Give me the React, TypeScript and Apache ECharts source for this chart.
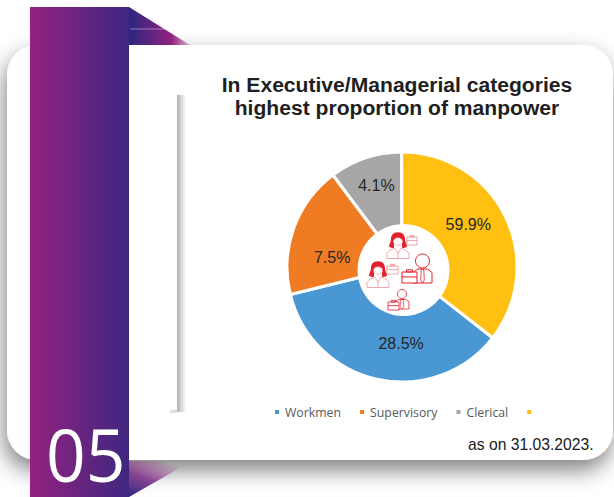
import React, { useEffect, useRef } from "react";
import * as echarts from "echarts";

const sliceNames = ["Workmen", "Supervisory", "Clerical", " "];
const sliceValues = [35.6, 18.6, 10.2, 35.6];
const sliceLabels = ["28.5%", "7.5%", "4.1%", "59.9%"];
const sliceColors = ["#4A98D3", "#EF7B22", "#A6A6A6", "#FFC012"];
const labelOffsets = [[16, -2], [6, 18], [0, -5], [-6, -7]];
const titleLines = "In Executive/Managerial categories\nhighest proportion of manpower";
const footnote = "as on 31.03.2023.";
const badge = "05";

const RED = "#E3202E";
const PINK = "#EE8A90";

const hair = "M0 -11 C-5 -11 -7 -7 -7 -3 C-7 1 -9 3 -9 6 C-7 8 -5 8 -4 7 L-4 -2 C-2 -3 2 -3 4 -2 L4 7 C5 8 7 8 9 6 C9 3 7 1 7 -3 C7 -7 5 -11 0 -11 Z";
echarts.graphic.registerShape("hairShape", echarts.graphic.extendPath(hair, {}));

function withZ(el: any, z: number): any {
  if (el.children) return { ...el, children: el.children.map((c: any) => withZ(c, z)) };
  return { ...el, z };
}

function woman(x: number, y: number) {
  return {
    type: "group", x, y, scaleX: 1, scaleY: 0.85,
    children: [
      { type: "hairShape", style: { fill: RED } },
      { type: "circle", shape: { cx: 0, cy: 0, r: 4.5 }, style: { fill: "#fff", stroke: PINK, lineWidth: 0.7 } },
      { type: "polyline", shape: { points: [[-11, 20], [-11, 14], [-8, 10], [-3, 8], [0, 14], [3, 8], [8, 10], [11, 14], [11, 20]] }, style: { fill: "none", stroke: PINK, lineWidth: 0.8 } },
      { type: "line", shape: { x1: -11, y1: 20, x2: 11, y2: 20 }, style: { stroke: PINK, lineWidth: 0.8 } },
      { type: "line", shape: { x1: 0, y1: 14, x2: 0, y2: 20 }, style: { stroke: PINK, lineWidth: 0.8 } },
    ],
  };
}
function briefcase(x: number, y: number, w: number, h: number, stroke: string, lw: number) {
  return {
    type: "group", x, y,
    children: [
      { type: "rect", shape: { x: 0, y: 0, width: w, height: h }, style: { fill: "#fff", stroke, lineWidth: lw } },
      { type: "rect", shape: { x: w * 0.3, y: -h * 0.2, width: w * 0.4, height: h * 0.2 }, style: { fill: "none", stroke, lineWidth: lw } },
      { type: "line", shape: { x1: 0, y1: h * 0.45, x2: w, y2: h * 0.45 }, style: { stroke, lineWidth: lw } },
    ],
  };
}
function man(x: number, y: number, r: number, w: number, h: number, lw: number) {
  return {
    type: "group", x, y,
    children: [
      { type: "circle", shape: { cx: 0, cy: 0, r }, style: { fill: "#fff", stroke: RED, lineWidth: lw } },
      { type: "polyline", shape: { points: [[-w, r + h], [-w, r + h * 0.3], [-w * 0.5, r + 1], [w * 0.5, r + 1], [w, r + h * 0.3], [w, r + h], [-w, r + h]] }, style: { fill: "#fff", stroke: RED, lineWidth: lw } },
      { type: "polygon", shape: { points: [[-1.2, r + 1], [1.2, r + 1], [1.8, r + h * 0.8], [0, r + h], [-1.8, r + h * 0.8]] }, style: { fill: "none", stroke: RED, lineWidth: lw * 0.8 } },
    ],
  };
}

const stripe = {
  type: "linear", x: 0, y: 0, x2: 1, y2: 0,
  colorStops: [{ offset: 0, color: "#93237F" }, { offset: 1, color: "#3F2680" }],
};

export default function App() {
  const ref = useRef<HTMLDivElement>(null);
  useEffect(() => {
    document.body.style.margin = "0";
    const chart = echarts.init(ref.current!, undefined, { renderer: "svg" });
    chart.setOption({
      animation: false,
      backgroundColor: "#fff",
      title: {
        text: titleLines, left: 392, top: 68, textAlign: "center",
        textStyle: { fontFamily: "Liberation Sans", fontSize: 21.1, fontWeight: "bold", color: "#1F1F1F", lineHeight: 23 },
      },
      legend: {
        data: sliceNames, left: 268, top: 401, icon: "rect", itemWidth: 6, itemHeight: 6, itemGap: 17,
        textStyle: { fontFamily: "Open Sans", fontSize: 12.3, color: "#595959" },
      },
      series: [{
        type: "pie", center: [402, 267], radius: [40, 115], startAngle: -38, clockwise: true,
        itemStyle: { borderColor: "#fff", borderWidth: 3 },
        label: {
          show: true, position: "inside", fontFamily: "Liberation Sans", fontSize: 16, color: "#262626",
          formatter: (p: any) => sliceLabels[p.dataIndex],
        },
        labelLine: { show: false },
        data: sliceNames.map((name, i) => ({
          name, value: sliceValues[i], itemStyle: { color: sliceColors[i] },
          label: { offset: labelOffsets[i] },
        })),
      }],
      graphic: [
        { type: "rect", z: -10, shape: { x: 7, y: 45, width: 606, height: 415, r: 30 },
          style: { fill: "#fff", shadowBlur: 22, shadowColor: "rgba(0,0,0,0.5)", shadowOffsetY: 10, shadowOffsetX: -2 } },
        { type: "polygon", z: -9, shape: { points: [[129, 7], [190, 45], [129, 45]] },
          style: { fill: { type: "linear", x: 0, y: 0, x2: 1, y2: 0, colorStops: [{ offset: 0, color: "#2A2680" }, { offset: 0.7, color: "#93237F" }, { offset: 1, color: "#D9B0D0" }] } } },
        { type: "polygon", z: -9, shape: { points: [[129, 497], [192, 461], [129, 461]] },
          style: { fill: { type: "linear", x: 0, y: 1, x2: 0.6, y2: 0, colorStops: [{ offset: 0, color: "#2A2680" }, { offset: 0.5, color: "rgba(120,40,130,0.85)" }, { offset: 1, color: "rgba(147,35,127,0)" }] } } },
        { type: "line", z: -8, shape: { x1: 130, y1: 29, x2: 168, y2: 29 }, style: { stroke: "rgba(255,255,255,0.4)", lineWidth: 1 } },
        { type: "rect", z: -8, shape: { x: 30, y: 7, width: 99, height: 490 }, style: { fill: stripe } },
        { type: "text", z: 5, x: 46, y: 453.5, scaleX: 0.94, style: { text: badge, fontFamily: "Open Sans", fontSize: 74, fill: "#fff", verticalAlign: "middle" } },
        { type: "rect", z: -8, shape: { x: 177, y: 95, width: 9, height: 317 },
          style: { fill: { type: "linear", x: 0, y: 0, x2: 1, y2: 0, colorStops: [{ offset: 0, color: "#B0B0B0" }, { offset: 1, color: "#FFFFFF" }] } } },
        { type: "rect", z: -8, shape: { x: 170, y: 410, width: 7, height: 3 }, style: { fill: "#DDDDDD" } },
        { type: "text", z: 5, x: 468, y: 436, style: { text: footnote, fontFamily: "Liberation Sans", fontSize: 15.7, fill: "#1a1a1a" } },
        { type: "circle", z: 8, shape: { cx: 403.5, cy: 270, r: 46 }, style: { fill: "#fff" } },
        withZ({ type: "group", children: [
          woman(398, 241.5),
          briefcase(407, 237, 10, 8, PINK, 0.8),
          woman(378, 270.5),
          briefcase(387, 266, 11, 8, PINK, 0.8),
          man(422.5, 261, 7, 9.5, 15, 1),
          briefcase(402, 272, 15, 11, RED, 1),
          man(402, 294, 4.5, 7, 10.5, 0.8),
          briefcase(388, 302, 11, 8, RED, 0.8),
        ] }, 10),
      ],
    });
    return () => chart.dispose();
  }, []);
  return <div ref={ref} style={{ position: "absolute", left: 0, top: 0, width: 614, height: 497 }} />;
}
